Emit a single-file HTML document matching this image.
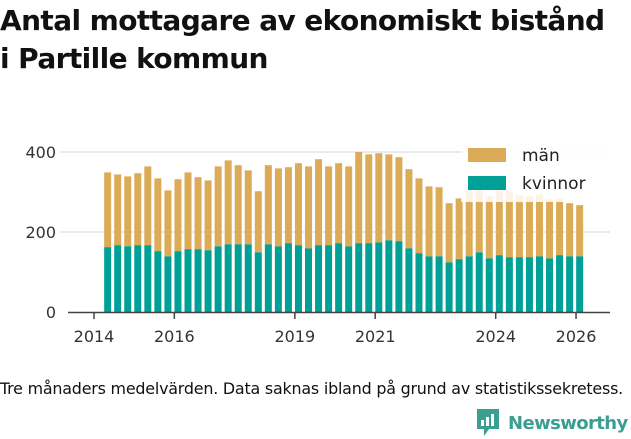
<!DOCTYPE html>
<html><head><meta charset="utf-8"><style>
body{margin:0;width:631px;height:439px;background:#fff;font-family:"Liberation Sans","DejaVu Sans",sans-serif;overflow:hidden;position:relative}
h1{position:absolute;left:0;top:2px;margin:0;font-size:28px;line-height:38px;font-weight:bold;color:#111;font-family:"DejaVu Sans","Liberation Sans",sans-serif;letter-spacing:-0.6px}
.note{position:absolute;left:0;top:379px;font-size:15.9px;color:#111;font-family:"DejaVu Sans",sans-serif;letter-spacing:-0.2px;white-space:nowrap}
.logo{position:absolute;left:475px;top:408px;display:flex;align-items:center}
.logo span{font-size:18px;font-weight:bold;color:#3a9f92;margin-left:7px;font-family:"DejaVu Sans",sans-serif;letter-spacing:-0.6px}
</style></head><body>
<h1>Antal mottagare av ekonomiskt bistånd<br>i Partille kommun</h1>
<svg id="chart" width="631" height="439" style="position:absolute;left:0;top:0"></svg>
<div class="note">Tre månaders medelvärden. Data saknas ibland på grund av statistikssekretess.</div>
<div class="logo">
<svg width="26" height="30" viewBox="0 0 26 30"><path d="M2 1h22v20H14l-5 7v-7H2z" fill="#3a9f92"/><rect x="6" y="12" width="3" height="6" fill="#fff"/><rect x="11" y="9" width="3" height="9" fill="#fff"/><rect x="16" y="6" width="3" height="12" fill="#fff"/></svg>
<span>Newsworthy</span></div>
<script>
const total=[349,344,339,347,364,334,304,332,349,337,329,364,379,367,354,302,367,359,362,372,364,382,364,372,364,400,394,397,394,387,357,334,314,312,272,284,304,308,289,304,299,292,289,294,282,284,272,267];
const kvinnor=[162,167,164,167,167,152,139,152,157,157,154,164,169,169,169,149,169,164,172,167,159,167,167,172,164,172,172,174,179,177,159,147,139,139,124,132,139,149,134,142,137,137,137,139,134,142,139,139];
const yTicks=[0,200,400];
const xTicks=[2014,2016,2019,2021,2024,2026];
const startT=2014.34, stepT=0.25;
const svg=document.getElementById('chart');
const NS='http://www.w3.org/2000/svg';
const x=t=>94+(t-2014)*40.17;
const y=v=>312-v*0.4;
function el(tag,a){const e=document.createElementNS(NS,tag);for(const k in a)e.setAttribute(k,a[k]);svg.appendChild(e);return e;}
yTicks.forEach(v=>{
  if(v>0){const g=el('line',{x1:60,x2:610,y1:y(v),y2:y(v),stroke:'#e3e3e3','stroke-width':1.5});
  
  }
  const t=el('text',{x:56,y:y(v)+6,'text-anchor':'end','font-size':16,fill:'#333','font-family':'DejaVu Sans,sans-serif'});
  t.textContent=v;
  
  
});
total.forEach((tv,i)=>{
  const cx=x(startT+i*stepT);
  const m=el('rect',{x:cx-3.5,y:y(tv),width:7,height:y(kvinnor[i])-y(tv),fill:'#dbab57'});
  
  
  const k=el('rect',{x:cx-3.5,y:y(kvinnor[i]),width:7,height:y(0)-y(kvinnor[i]),fill:'#00a096'});
  
  
});
const ax=el('line',{x1:68,x2:610,y1:312.5,y2:312.5,stroke:'#444','stroke-width':1.5});


xTicks.forEach(v=>{
  const tk=el('line',{x1:x(v),x2:x(v),y1:312,y2:319,stroke:'#444','stroke-width':1.5});
  
  
  const t=el('text',{x:x(v),y:342,'text-anchor':'middle','font-size':16,fill:'#333','font-family':'DejaVu Sans,sans-serif'});
  t.textContent=v;
  
  
});
const lb=el('rect',{x:461,y:138,width:150,height:64,fill:'#fff','fill-opacity':0.85});


[['män','#dbab57',148],['kvinnor','#00a096',176]].forEach(([n,c,yy])=>{
  const r=el('rect',{x:468,y:yy,width:38,height:14,fill:c});
  
  
  const t=el('text',{x:522,y:yy+13,'font-size':17,fill:'#222','font-family':'DejaVu Sans,sans-serif'});
  t.textContent=n;
  
  
});
</script>
</body></html>
